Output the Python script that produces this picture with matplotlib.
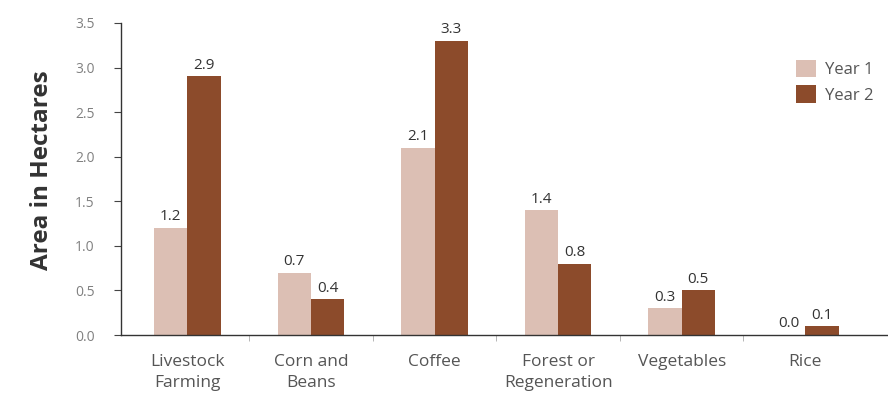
import matplotlib
matplotlib.use("Agg")
import matplotlib.pyplot as plt
import numpy as np

plt.rcParams['font.family'] = ['Open Sans', 'DejaVu Sans']

categories = ["Livestock\nFarming", "Corn and\nBeans", "Coffee",
              "Forest or\nRegeneration", "Vegetables", "Rice"]
year1 = [1.2, 0.7, 2.1, 1.4, 0.3, 0.0]
year2 = [2.9, 0.4, 3.3, 0.8, 0.5, 0.1]
yticks = [0.0, 0.5, 1.0, 1.5, 2.0, 2.5, 3.0, 3.5]

c1 = "#dcbfb4"
c2 = "#8c4b2b"

fig = plt.figure(figsize=(8.88, 3.96), dpi=100)
ax = fig.add_axes([0.136, 0.154, 0.864, 0.788])

x = np.arange(len(categories))
w = 0.27
b1 = ax.bar(x - w / 2, year1, w, color=c1, label="Year 1")
b2 = ax.bar(x + w / 2, year2, w, color=c2, label="Year 2")

for bars, vals in ((b1, year1), (b2, year2)):
    for rect, v in zip(bars, vals):
        ax.text(rect.get_x() + rect.get_width() / 2, v + 0.04, f"{v:.1f}",
                ha="center", va="bottom", fontsize=11, color="#333333")

ax.set_xlim(-0.54, 5.67)
ax.set_ylim(0, 3.5)
ax.set_yticks(yticks)
ax.set_yticklabels([f"{t:.1f}" for t in yticks], fontsize=10, color="#808080")
ax.tick_params(axis="y", length=5, width=0.8, color="#444444", pad=14)

ax.set_xticks(x)
ax.set_xticklabels(categories, fontsize=12.5, color="#555555", linespacing=1.35)
ax.tick_params(axis="x", length=0, pad=14)
ax.set_xticks(x[:-1] + 0.5, minor=True)
ax.tick_params(axis="x", which="minor", length=4, color="#aaaaaa")

for s in ("top", "right"):
    ax.spines[s].set_visible(False)
ax.spines["left"].set_color("#333333")
ax.spines["bottom"].set_color("#333333")
ax.spines["left"].set_linewidth(1.0)
ax.spines["bottom"].set_linewidth(1.0)

fig.text(0.047, 0.57, "Area in Hectares", rotation=90, ha="center", va="center",
         fontsize=17.5, fontweight="bold", color="#333333")

ax.legend(loc="upper right", bbox_to_anchor=(1.0, 0.93), frameon=False,
          fontsize=12, handlelength=1.2, handleheight=1.2,
          labelcolor="#555555", handletextpad=0.5, labelspacing=0.45)

fig.savefig("out.png", dpi=100)
